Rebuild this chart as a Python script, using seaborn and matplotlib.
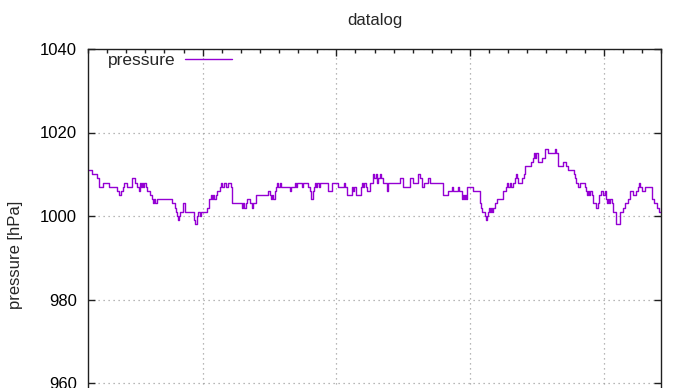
import matplotlib
matplotlib.use("Agg")
import matplotlib.pyplot as plt
import seaborn as sns
import pandas as pd
from matplotlib.ticker import MultipleLocator, FixedLocator

# ---- data (hours since start, pressure in hPa; step series) ----
time_h = [
    0, 5, 11, 14, 19, 26, 36, 39, 41, 44, 45, 49, 55, 59, 62, 64, 65, 67, 68, 69,
    70, 73, 74, 78, 80, 82, 83, 84, 87, 106, 109, 111, 112, 113, 114, 116, 119, 122, 133, 134,
    137, 138, 141, 142, 150, 152, 155, 156, 157, 158, 161, 162, 166, 167, 168, 171, 173, 176, 180, 181,
    191, 194, 195, 196, 199, 200, 204, 206, 207, 211, 226, 229, 230, 231, 232, 235, 236, 237, 239, 241,
    242, 254, 255, 260, 261, 263, 269, 270, 276, 279, 280, 283, 284, 285, 286, 288, 290, 292, 302, 307,
    314, 322, 323, 325, 332, 333, 334, 337, 343, 344, 346, 347, 349, 351, 354, 358, 359, 362, 363, 364,
    367, 368, 371, 376, 377, 392, 396, 405, 408, 415, 417, 420, 422, 427, 430, 446, 452, 457, 459, 465,
    466, 470, 471, 472, 474, 475, 476, 484, 493, 494, 495, 499, 500, 501, 503, 504, 505, 506, 508, 509,
    511, 514, 521, 525, 526, 528, 530, 531, 534, 537, 538, 539, 540, 545, 548, 549, 557, 559, 560, 562,
    563, 565, 570, 574, 578, 587, 588, 591, 597, 601, 603, 611, 612, 613, 616, 618, 624, 626, 627, 628,
    630, 631, 633, 635, 638, 641, 642, 645, 647, 650, 651, 652, 653, 655, 656, 658, 660, 663, 668, 672,
    675, 679, 681, 685, 689, 691, 692, 694, 696, 700, 709, 711, 715, 717, 720,
]
pressure_hpa = [
    1011, 1010, 1009, 1007, 1008, 1007, 1006, 1005, 1006, 1007, 1008, 1007, 1009, 1008, 1007, 1006, 1008, 1007, 1008, 1007,
    1008, 1007, 1006, 1005, 1004, 1003, 1004, 1003, 1004, 1003, 1002, 1001, 1000, 999, 1000, 1001, 1003, 1001, 999, 998,
    1000, 1001, 1000, 1001, 1002, 1004, 1005, 1004, 1005, 1004, 1005, 1006, 1007, 1008, 1007, 1008, 1007, 1008, 1007, 1003,
    1003, 1002, 1003, 1002, 1003, 1004, 1003, 1002, 1003, 1005, 1006, 1005, 1004, 1005, 1004, 1006, 1007, 1008, 1007, 1008,
    1007, 1006, 1007, 1008, 1007, 1008, 1007, 1008, 1007, 1006, 1004, 1006, 1007, 1008, 1007, 1008, 1007, 1008, 1006, 1008,
    1007, 1008, 1007, 1005, 1007, 1006, 1007, 1005, 1007, 1008, 1007, 1008, 1007, 1006, 1008, 1010, 1009, 1010, 1008, 1009,
    1010, 1009, 1008, 1006, 1008, 1009, 1007, 1009, 1008, 1010, 1009, 1007, 1008, 1009, 1008, 1005, 1006, 1007, 1006, 1007,
    1006, 1004, 1005, 1004, 1005, 1004, 1007, 1006, 1003, 1002, 1001, 1000, 999, 1000, 1001, 1002, 1001, 1002, 1001, 1002,
    1003, 1004, 1006, 1007, 1008, 1007, 1008, 1007, 1008, 1009, 1010, 1009, 1008, 1009, 1010, 1012, 1013, 1014, 1015, 1014,
    1015, 1013, 1014, 1016, 1015, 1016, 1015, 1012, 1013, 1012, 1011, 1010, 1009, 1008, 1007, 1008, 1007, 1006, 1005, 1006,
    1005, 1006, 1005, 1003, 1002, 1003, 1005, 1006, 1005, 1006, 1004, 1003, 1004, 1003, 1004, 1003, 1001, 998, 1001, 1002,
    1003, 1004, 1006, 1005, 1006, 1007, 1008, 1007, 1006, 1007, 1004, 1003, 1002, 1001, 1001,
]
assert len(time_h) == len(pressure_hpa)

y_ticks = [960, 980, 1000, 1020, 1040]
x_major = [144, 312, 480, 648]
series_label = "pressure"
title_text = "datalog"
ylabel_text = "pressure [hPa]"

df = pd.DataFrame({"time_h": time_h, "pressure": pressure_hpa})

sns.set_style("ticks")
plt.rcParams["font.family"] = ["Liberation Sans", "DejaVu Sans"]
plt.rcParams["font.size"] = 12

W, H = 690, 388
fig = plt.figure(figsize=(W / 100, H / 100), dpi=100)
# axes box in pixels: left 88, right 661, top 49 (=1040); 4.175 px per hPa; ylim 940..1040
left_px, right_px, top_px = 88, 661, 49
ylo, yhi = 940, 1040
h_px = (yhi - ylo) * 4.175
ax = fig.add_axes([left_px / W, 1 - (top_px + h_px) / H, (right_px - left_px) / W, h_px / H])

sns.lineplot(data=df, x="time_h", y="pressure", ax=ax, estimator=None, sort=False,
             drawstyle="steps-post", color="#9400d3", linewidth=1.0, label=series_label)

ax.set_xlim(0, 720)
ax.set_ylim(ylo, yhi)
ax.yaxis.set_major_locator(FixedLocator(y_ticks))
ax.xaxis.set_major_locator(FixedLocator(x_major))
ax.xaxis.set_minor_locator(MultipleLocator(24))

ax.grid(True, which="major", color="#a0a0a0", linestyle=(0, (1, 3)), linewidth=0.9)
for s in ax.spines.values():
    s.set_color("#202020")
    s.set_linewidth(1.0)

ax.tick_params(axis="y", which="major", direction="in", left=True, right=True,
               length=5, width=1, pad=8, labelsize=12, colors="#202020", labelcolor="black")
ax.tick_params(axis="x", which="both", direction="in", top=True, bottom=True,
               labelbottom=False, labeltop=False, colors="#202020")
ax.tick_params(axis="x", which="major", length=5, width=1)
ax.tick_params(axis="x", which="minor", length=3, width=1)

ax.set_xlabel("")
ax.set_ylabel(ylabel_text, fontsize=12)
ax.yaxis.set_label_coords((23 - left_px) / (right_px - left_px), 1 - (255 - top_px) / h_px)
ax.set_title(title_text, fontsize=12, pad=17)

leg = ax.legend(loc="upper left", markerfirst=False, frameon=False, handlelength=2.7,
                handletextpad=0.55, borderaxespad=0, borderpad=0,
                bbox_to_anchor=(20 / (right_px - left_px), 1 - 4 / h_px), fontsize=12.5)

fig.savefig("out.png", dpi=100)
